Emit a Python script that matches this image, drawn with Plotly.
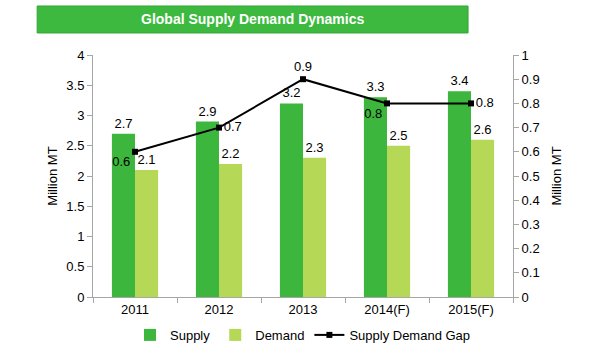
import plotly.graph_objects as go

years = ["2011", "2012", "2013", "2014(F)", "2015(F)"]
supply = [2.7, 2.9, 3.2, 3.3, 3.4]
demand = [2.1, 2.2, 2.3, 2.5, 2.6]
gap = [0.6, 0.7, 0.9, 0.8, 0.8]
gap_pos = ["bottom left", "middle right", "top center", "bottom left", "middle right"]

FONT = "Liberation Sans, Arial, sans-serif"

fig = go.Figure()
fig.add_trace(go.Bar(x=years, y=supply, name="Supply", marker=dict(color="#3cb63c", line=dict(width=0)),
                     text=[f"{v:g}" for v in supply], textposition="outside", cliponaxis=False,
                     textfont=dict(size=13, color="black")))
fig.add_trace(go.Bar(x=years, y=demand, name="Demand", marker=dict(color="#b5d957", line=dict(width=0)),
                     text=[f"{v:g}" for v in demand], textposition="outside", cliponaxis=False,
                     textfont=dict(size=13, color="black")))
fig.add_trace(go.Scatter(x=years, y=gap, name="Supply Demand Gap", yaxis="y2", mode="lines+markers+text",
                         line=dict(color="black", width=2), marker=dict(symbol="square", size=6, color="black"),
                         text=[f"{v:g}" for v in gap], textposition=gap_pos, cliponaxis=False,
                         textfont=dict(size=13, color="black")))

fig.update_layout(
    width=615, height=350,
    margin=dict(l=93, r=102, t=55, b=53, autoexpand=False),
    paper_bgcolor="white", plot_bgcolor="white",
    font=dict(family=FONT, size=13, color="black"),
    barmode="group", bargap=0.45, bargroupgap=0,
    showlegend=True,
    legend=dict(orientation="h", x=0.5, xanchor="center", yref="container", y=0.043, yanchor="middle",
                font=dict(size=13), traceorder="normal", itemwidth=30, tracegroupgap=0,
                bgcolor="rgba(0,0,0,0)"),
    xaxis=dict(showline=True, linecolor="#a6a6a6", ticks="outside", tickson="boundaries",
               tickcolor="#a6a6a6", ticklen=5, showgrid=False, tickfont=dict(size=13)),
    yaxis=dict(range=[0, 4], dtick=0.5, showline=True, linecolor="#a6a6a6", ticks="outside",
               tickcolor="#a6a6a6", ticklen=5, showgrid=False, zeroline=False,
               title=dict(text="Million MT", standoff=5, font=dict(size=13)), tickfont=dict(size=13)),
    yaxis2=dict(range=[0, 1], dtick=0.1, overlaying="y", side="right", showline=True,
                linecolor="#a6a6a6", ticks="outside", tickcolor="#a6a6a6", ticklen=5,
                showgrid=False, zeroline=False,
                title=dict(text="Million MT", standoff=13, font=dict(size=13)), tickfont=dict(size=13)),
    shapes=[dict(type="rect", xref="paper", yref="paper", x0=-0.133, x1=0.893, y0=1.091, y1=1.2025,
                 fillcolor="#3cb93e", line=dict(color="#34a836", width=1), layer="above")],
    annotations=[dict(text="<b>Global Supply Demand Dynamics</b>", xref="paper", yref="paper",
                      x=0.38, y=1.1467, xanchor="center", yanchor="middle", showarrow=False,
                      font=dict(size=14, color="white", family=FONT))],
)

fig.write_html("out.html")
